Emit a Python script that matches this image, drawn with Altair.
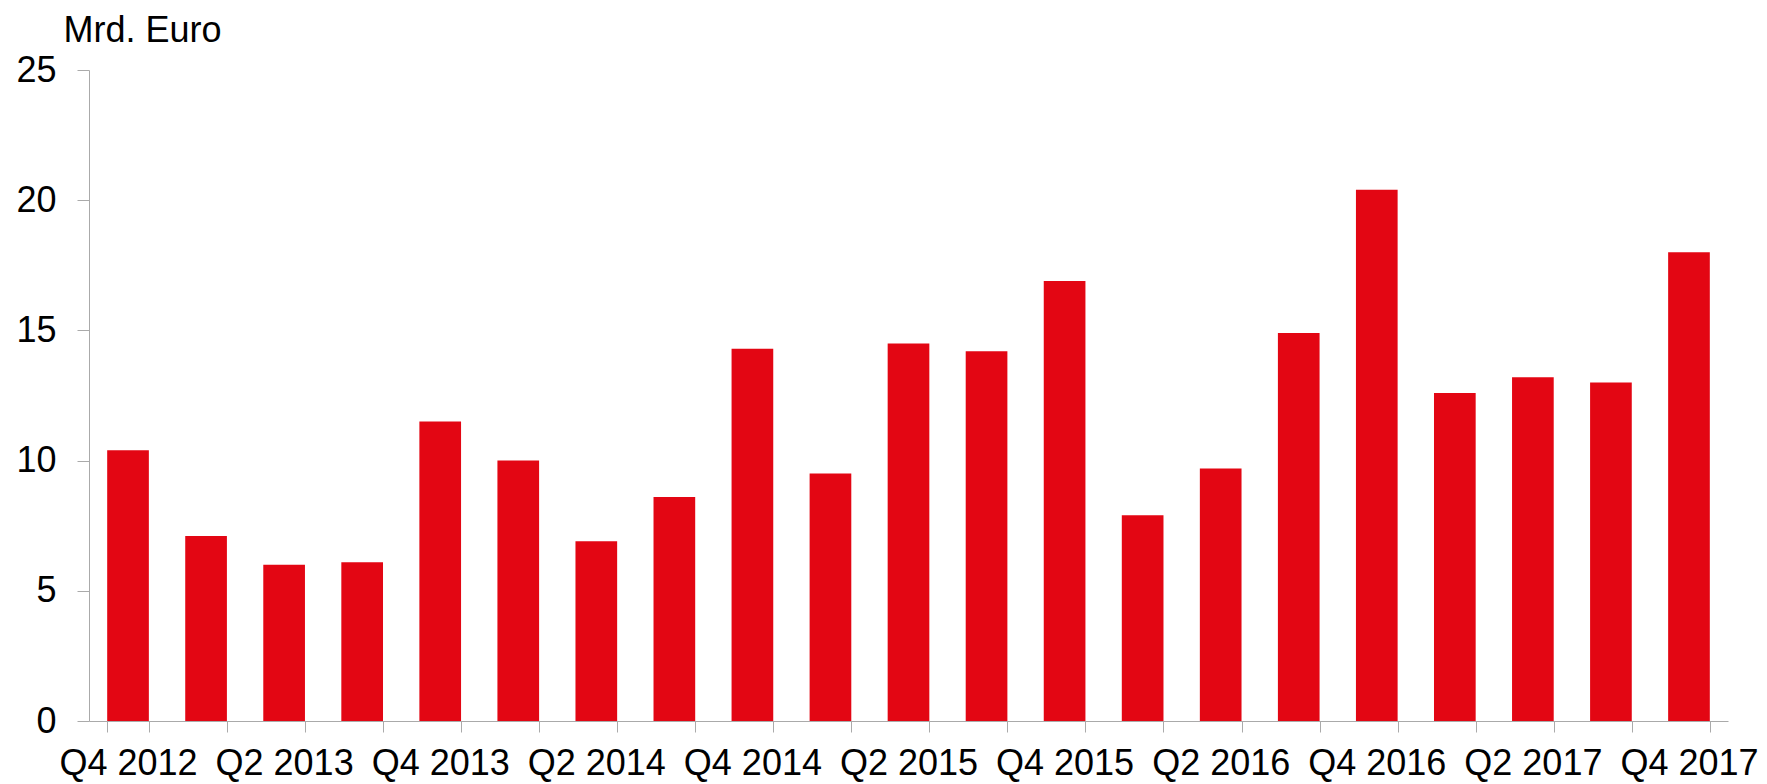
import altair as alt
import pandas as pd

quarters = [
    "Q4 2012", "Q1 2013", "Q2 2013", "Q3 2013", "Q4 2013", "Q1 2014", "Q2 2014",
    "Q3 2014", "Q4 2014", "Q1 2015", "Q2 2015", "Q3 2015", "Q4 2015", "Q1 2016",
    "Q2 2016", "Q3 2016", "Q4 2016", "Q1 2017", "Q2 2017", "Q3 2017", "Q4 2017",
]
values = [
    10.4, 7.1, 6.0, 6.1, 11.5, 10.0, 6.9, 8.6, 14.3, 9.5, 14.5,
    14.2, 16.9, 7.9, 9.7, 14.9, 20.4, 12.6, 13.2, 13.0, 18.0,
]
y_ticks = [0, 5, 10, 15, 20, 25]

df = pd.DataFrame({"quarter": quarters, "value": values})

FONT = "Liberation Sans"
GRAY = "#AAAAAA"

chart = (
    alt.Chart(df)
    .mark_bar(color="#E30613")
    .encode(
        x=alt.X(
            "quarter:N",
            sort=quarters,
            scale=alt.Scale(paddingInner=0.466, paddingOuter=0.233),
            axis=alt.Axis(
                title=None,
                tickBand="extent",
                tickSize=11,
                tickColor=GRAY,
                domainColor=GRAY,
                labelAngle=0,
                labelFont=FONT,
                labelFontSize=36,
                labelColor="#000000",
                labelBaseline="alphabetic",
                labelPadding=42,
                labelOverlap=False,
                labelLimit=400,
                labelExpr="(substring(datum.label,0,2)=='Q2' || substring(datum.label,0,2)=='Q4') ? datum.label : ''",
            ),
        ),
        y=alt.Y(
            "value:Q",
            scale=alt.Scale(domain=[0, 25], nice=False),
            axis=alt.Axis(
                values=y_ticks,
                grid=False,
                tickSize=12,
                tickColor=GRAY,
                domainColor=GRAY,
                labelFont=FONT,
                labelFontSize=36,
                labelColor="#000000",
                labelPadding=21,
                title="Mrd. Euro",
                titleFont=FONT,
                titleFontSize=36,
                titleFontWeight="normal",
                titleColor="#000000",
                titleAngle=0,
                titleAlign="left",
                titleBaseline="alphabetic",
                titleX=-26,
                titleY=-29,
            ),
        ),
    )
    .properties(
        width=1639,
        height=651,
        autosize="none",
        padding={"left": 81, "top": 62, "right": 31, "bottom": 63},
    )
    .configure_view(stroke=None)
)

chart.save("out.html", embed_options={"renderer": "svg", "actions": False})
